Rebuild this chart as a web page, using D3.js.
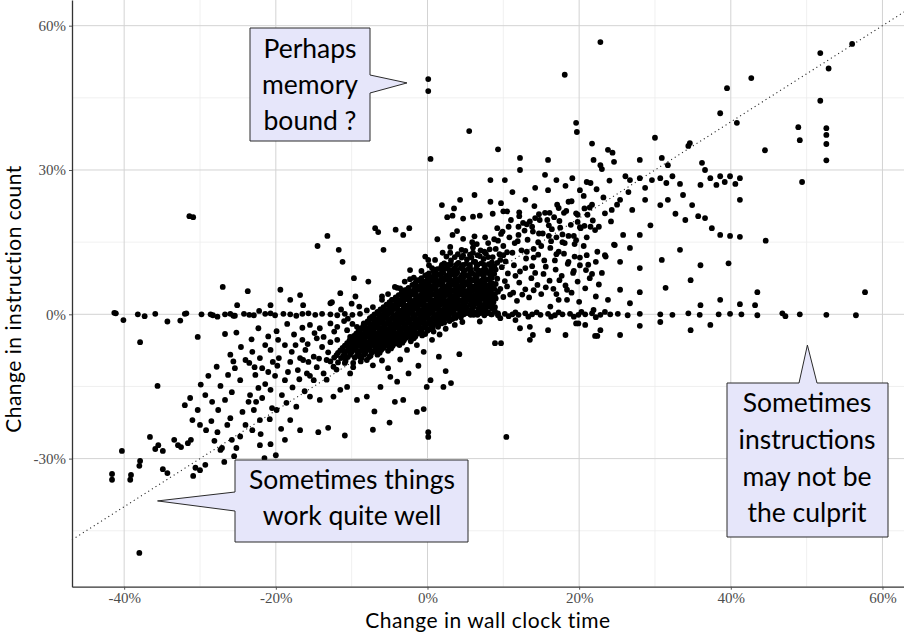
<!DOCTYPE html>
<html>
<head>
<meta charset="utf-8">
<script src="https://cdn.jsdelivr.net/npm/d3@7"></script>
<style>
  body { margin: 0; background: #fff; }
  svg { display: block; }
</style>
</head>
<body>
<svg id="chart" width="904" height="633"></svg>
<script>
// Axis ticks (percent)
const xTicks = [-40, -20, 0, 20, 40, 60];
const xMinorTicks = [-30, -10, 10, 30, 50];
const yTicks = [-30, 0, 30, 60];
const yMinorTicks = [-45, -15, 15, 45];

// Benchmarks: [change in wall clock time %, change in instruction count %]
// Runs whose instruction count did not move
const flatRuns = [
  [-41.3,0.3],[-41.1,0.2],[-40.1,-1.2],[-38.2,0.0],[-37.3,-0.4],[-35.9,0.1],[-34.3,-1.5],[-32.6,-1.3],
  [-32.0,0.1],[-31.8,0.2],[-29.8,0.0],[-28.6,0.0],[-28.3,-0.2],[-27.7,-0.5],[-26.7,0.0],[-26.0,0.1],
  [-25.6,-0.3],[-25.4,-0.3],[-24.2,0.1],[-23.5,-0.1],[-22.9,-0.2],[-22.2,0.7],[-21.4,0.1],[-20.7,0.2],
  [-20.1,-0.2],[-19.0,0.1],[-18.1,0.0],[-17.3,-0.3],[-16.5,0.1],[-15.7,0.2],[-14.8,-0.1],[-13.9,0.1],
  [-12.8,0.0],[-11.9,-0.2],[-10.9,0.1],[-9.9,-0.1],[-8.9,0.1],
  [5.6,0.1],[6.6,-0.1],[7.5,0.2],[8.5,0.0],[9.3,-0.2],[10.2,0.1],[11.2,0.0],[12.0,-0.1],[12.9,0.2],
  [13.8,0.0],[14.9,-0.1],[15.9,0.1],[16.8,-0.2],[17.8,0.0],[18.8,0.1],[19.9,-0.1],[20.8,0.0],[21.7,0.2],
  [22.8,-0.1],[24.1,0.0],[25.1,0.1],[26.4,-0.2],[28.0,0.1],[30.7,0.0],[32.3,-0.1],[34.4,0.2],[35.9,-0.1],
  [38.4,0.0],[39.9,0.1],[41.4,0.0],[43.5,-0.2],[46.8,0.2],[47.2,-0.4],[49.1,0.0],[52.6,-0.1],[56.5,-0.2],
  [10.7,-0.4],[11.6,0.4],[13.3,-0.5],[14.4,0.4],[16.3,-0.5],[17.3,0.4],[19.3,-0.5],[20.3,0.5],[22.2,-0.6],[23.4,0.5]
];

// Bulk of the runs around no change
const coreRuns = [
  [3.1,11.2],[4.0,10.6],[5.2,11.4],[6.3,10.9],[7.4,11.5],[8.5,10.8],[9.6,11.3],
  [1.8,9.8],[2.6,10.2],[3.6,9.6],[4.6,10.1],[5.6,9.7],[6.6,10.3],[7.6,9.5],[8.8,10.0],
  [0.8,9.0],[1.9,8.7],[2.9,9.1],[3.9,8.8],[4.9,9.2],[5.9,8.6],[6.9,9.0],[7.9,8.8],[9.0,9.3],
  [-0.3,8.1],[0.7,7.8],[1.6,8.2],[2.5,7.9],[3.4,8.3],[4.4,7.7],[5.3,8.0],[6.3,7.8],[7.3,8.2],[8.3,7.9],
  [-1.2,7.0],[-0.3,6.8],[0.6,7.1],[1.5,6.9],[2.4,7.2],[3.3,6.8],[4.2,7.0],[5.1,6.7],[6.0,7.1],[7.0,6.9],[8.0,7.2],
  [-2.0,6.1],[-1.1,5.8],[-0.2,6.0],[0.7,5.9],[1.6,6.2],[2.5,5.8],[3.4,6.1],[4.3,5.9],[5.2,6.2],[6.1,5.8],[7.1,6.0],[8.0,6.0],[9.0,6.3],
  [-3.0,5.0],[-2.1,4.8],[-1.2,5.1],[-0.3,4.9],[0.6,5.2],[1.5,4.8],[2.4,5.0],[3.3,4.9],[4.2,5.1],[5.1,4.8],[6.0,5.0],[7.0,5.2],[7.9,5.0],[8.8,5.3],
  [-3.8,4.0],[-2.9,3.9],[-2.0,4.1],[-1.1,3.8],[-0.2,4.0],[0.7,4.1],[1.6,3.9],[2.5,4.0],[3.4,3.8],[4.3,4.1],[5.2,3.9],[6.2,4.0],[7.1,4.1],[8.0,3.9],[8.9,4.2],
  [-4.6,3.0],[-3.7,2.9],[-2.8,3.1],[-1.9,2.8],[-1.0,3.0],[-0.1,3.1],[0.8,2.9],[1.7,3.0],[2.6,2.8],[3.5,3.1],[4.4,2.9],[5.4,3.0],[6.3,3.0],[7.2,3.2],[8.1,2.9],[9.0,3.3],
  [-5.4,2.0],[-4.5,1.9],[-3.6,2.1],[-2.7,1.8],[-1.8,2.0],[-0.9,2.1],[0.0,1.9],[0.9,2.0],[1.8,2.1],[2.7,1.9],[3.6,2.0],[4.6,1.8],[5.6,2.0],[6.5,2.2],[7.4,1.9],[8.3,2.3],
  [-6.2,1.0],[-5.3,0.9],[-4.4,1.1],[-3.5,0.8],[-2.6,1.0],[-1.7,1.1],[-0.8,0.9],[0.1,1.0],[1.0,1.1],[1.9,0.9],[2.8,1.0],[3.7,1.1],[4.7,0.9],[5.8,0.9],[6.7,1.1],[7.6,0.9],[8.5,1.2],
  [-7.0,0.0],[-6.1,-0.1],[-5.2,0.1],[-4.3,-0.2],[-3.4,0.0],[-2.5,0.1],[-1.6,-0.1],[-0.7,0.0],[0.2,0.1],[1.1,-0.1],[2.0,0.0],[2.9,0.1],[3.8,-0.1],[4.8,0.0],[5.7,-0.1],[6.6,0.1],[7.5,-0.2],[8.4,0.0],[9.3,0.2],
  [-7.6,-1.0],[-6.7,-1.1],[-5.8,-0.9],[-4.9,-1.0],[-4.0,-1.1],[-3.1,-0.9],[-2.2,-1.0],[-1.3,-1.1],[-0.4,-0.9],[0.5,-1.0],[1.4,-1.1],[2.3,-0.9],[3.3,-1.0],
  [-8.2,-2.0],[-7.3,-2.1],[-6.4,-1.9],[-5.5,-2.0],[-4.6,-2.1],[-3.7,-1.9],[-2.8,-2.0],[-1.9,-2.1],[-1.0,-1.9],[-0.1,-2.0],[0.8,-2.1],[1.8,-1.9],
  [-8.8,-3.0],[-7.9,-3.1],[-7.0,-2.9],[-6.1,-3.0],[-5.2,-3.1],[-4.3,-2.9],[-3.4,-3.0],[-2.5,-3.1],[-1.6,-2.9],[-0.7,-3.0],[0.3,-3.1],
  [-9.4,-4.0],[-8.5,-4.1],[-7.6,-3.9],[-6.7,-4.0],[-5.8,-4.1],[-4.9,-3.9],[-4.0,-4.0],[-3.1,-4.1],[-2.2,-3.9],[-1.3,-4.0],[-0.3,-4.1],
  [-10.0,-5.0],[-9.1,-5.1],[-8.2,-4.9],[-7.3,-5.0],[-6.4,-5.1],[-5.5,-4.9],[-4.6,-5.0],[-3.7,-5.1],[-2.8,-4.9],[-1.8,-5.0],
  [-10.6,-6.0],[-9.7,-6.1],[-8.8,-5.9],[-7.9,-6.0],[-7.0,-6.1],[-6.1,-5.9],[-5.2,-6.0],[-4.3,-6.1],[-3.3,-5.9],
  [-11.2,-7.0],[-10.3,-7.1],[-9.4,-6.9],[-8.5,-7.0],[-7.6,-7.1],[-6.7,-6.9],[-5.8,-7.0],[-4.8,-7.1],
  [-11.8,-8.0],[-10.9,-8.1],[-10.0,-7.9],[-9.1,-8.0],[-8.2,-8.1],[-7.3,-7.9],[-6.3,-8.0],
  [-12.3,-9.0],[-11.4,-9.1],[-10.5,-8.9],[-9.6,-9.0],[-8.7,-9.1],[-7.7,-8.9]
];

// More runs packed into the same central mass
const coreRunsDense = [
  [2.5,12.0],[3.6,11.9],[4.7,12.2],[5.8,11.8],[6.9,12.1],[8.0,11.9],
  [2.2,10.6],[3.1,10.4],[4.1,10.7],[5.1,10.5],[6.1,10.9],[7.1,10.6],[8.1,10.4],[9.2,10.7],
  [1.3,9.4],[2.4,9.5],[3.4,9.3],[4.4,9.6],[5.4,9.4],[6.4,9.5],[7.4,9.3],[8.4,9.6],
  [0.2,8.5],[1.2,8.4],[2.1,8.6],[3.0,8.4],[3.9,8.6],[4.9,8.3],[5.8,8.5],[6.8,8.4],[7.8,8.6],[8.8,8.4],
  [-0.8,7.5],[0.2,7.4],[1.1,7.6],[2.0,7.4],[2.9,7.6],[3.8,7.3],[4.7,7.5],[5.6,7.4],[6.5,7.6],[7.5,7.4],[8.5,7.6],
  [-1.6,6.5],[-0.7,6.4],[0.2,6.6],[1.1,6.4],[2.0,6.6],[2.9,6.4],[3.8,6.6],[4.7,6.4],[5.6,6.6],[6.5,6.4],[7.5,6.6],[8.5,6.5],
  [-2.5,5.5],[-1.6,5.4],[-0.7,5.6],[0.2,5.4],[1.1,5.6],[2.0,5.4],[2.9,5.6],[3.8,5.4],[4.7,5.6],[5.6,5.4],[6.5,5.6],[7.5,5.5],[8.4,5.7],
  [-3.4,4.5],[-2.5,4.4],[-1.6,4.6],[-0.7,4.4],[0.2,4.6],[1.1,4.4],[2.0,4.6],[2.9,4.4],[3.8,4.6],[4.7,4.4],[5.6,4.6],[6.6,4.5],[7.5,4.6],[8.4,4.5],[9.3,4.7],
  [-4.2,3.5],[-3.3,3.4],[-2.4,3.6],[-1.5,3.4],[-0.6,3.6],[0.3,3.4],[1.2,3.6],[2.1,3.4],[3.0,3.6],[3.9,3.4],[4.9,3.6],[5.8,3.5],[6.7,3.6],[7.6,3.4],[8.5,3.6],
  [-5.0,2.5],[-4.1,2.4],[-3.2,2.6],[-2.3,2.4],[-1.4,2.6],[-0.5,2.4],[0.4,2.6],[1.3,2.4],[2.2,2.6],[3.1,2.4],[4.1,2.6],[5.0,2.5],[5.9,2.6],[6.9,2.4],[7.8,2.6],[8.7,2.5],
  [-5.8,1.5],[-4.9,1.4],[-4.0,1.6],[-3.1,1.4],[-2.2,1.6],[-1.3,1.4],[-0.4,1.6],[0.5,1.4],[1.4,1.6],[2.3,1.4],[3.2,1.6],[4.2,1.5],[5.2,1.4],[6.1,1.6],[7.0,1.4],[8.0,1.6],[8.9,1.5],
  [-6.6,0.5],[-5.7,0.4],[-4.8,0.6],[-3.9,0.4],[-3.0,0.6],[-2.1,0.4],[-1.2,0.6],[-0.3,0.4],[0.6,0.6],[1.5,0.4],[2.4,0.6],[3.3,0.4],[4.3,0.6],[5.2,0.5],[6.2,0.4],[7.1,0.6],[8.0,0.4],[8.9,0.6],
  [-7.3,-0.5],[-6.4,-0.6],[-5.5,-0.4],[-4.6,-0.6],[-3.7,-0.4],[-2.8,-0.6],[-1.9,-0.4],[-1.0,-0.6],[-0.1,-0.4],[0.8,-0.6],[1.7,-0.4],[2.6,-0.6],[3.5,-0.4],[4.4,-0.6],
  [-7.9,-1.5],[-7.0,-1.6],[-6.1,-1.4],[-5.2,-1.6],[-4.3,-1.4],[-3.4,-1.6],[-2.5,-1.4],[-1.6,-1.6],[-0.7,-1.4],[0.2,-1.6],[1.1,-1.4],[2.0,-1.6],[2.9,-1.4],
  [-8.5,-2.5],[-7.6,-2.6],[-6.7,-2.4],[-5.8,-2.6],[-4.9,-2.4],[-4.0,-2.6],[-3.1,-2.4],[-2.2,-2.6],[-1.3,-2.4],[-0.4,-2.6],[0.5,-2.4],[1.4,-2.6],
  [-9.1,-3.5],[-8.2,-3.6],[-7.3,-3.4],[-6.4,-3.6],[-5.5,-3.4],[-4.6,-3.6],[-3.7,-3.4],[-2.8,-3.6],[-1.9,-3.4],[-1.0,-3.6],[0.0,-3.4],[0.8,-3.6],
  [-9.7,-4.5],[-8.8,-4.6],[-7.9,-4.4],[-7.0,-4.6],[-6.1,-4.4],[-5.2,-4.6],[-4.3,-4.4],[-3.4,-4.6],[-2.5,-4.4],[-1.6,-4.6],[-0.7,-4.4],
  [-10.3,-5.5],[-9.4,-5.6],[-8.5,-5.4],[-7.6,-5.6],[-6.7,-5.4],[-5.8,-5.6],[-4.9,-5.4],[-4.0,-5.6],[-3.1,-5.4],[-2.2,-5.6],
  [-10.9,-6.5],[-10.0,-6.6],[-9.1,-6.4],[-8.2,-6.6],[-7.3,-6.4],[-6.4,-6.6],[-5.5,-6.4],[-4.6,-6.6],[-3.7,-6.4],
  [-11.5,-7.5],[-10.6,-7.6],[-9.7,-7.4],[-8.8,-7.6],[-7.9,-7.4],[-7.0,-7.6],[-6.1,-7.4],[-5.2,-7.6],
  [-12.0,-8.5],[-11.1,-8.6],[-10.2,-8.4],[-9.3,-8.6],[-8.4,-8.4],[-7.5,-8.6],[-6.6,-8.4],
  [-12.8,-9.8],[-11.8,-10.0],[-10.8,-9.7],[-9.8,-10.1],[-8.8,-9.8],
  [3.0,12.8],[4.5,13.4],[6.0,13.9],[7.5,13.0],[9.0,13.6],[10.5,12.9]
];

// Runs in the very centre of the mass
const coreRunsInner = [
  [1.9,10.25],[2.8,10.25],[3.8,10.25],[4.7,10.25],[5.6,10.25],[6.5,10.25],[7.5,10.25],[8.4,10.25],
  [1.0,9.25],[1.9,9.25],[2.9,9.25],[3.8,9.25],[4.7,9.25],[5.7,9.25],[6.6,9.25],[7.5,9.25],[8.4,9.25],
  [0.0,8.25],[0.9,8.25],[1.8,8.25],[2.8,8.25],[3.7,8.25],[4.6,8.25],[5.5,8.25],[6.5,8.25],[7.4,8.25],[8.3,8.25],
  [-0.9,7.25],[0.0,7.25],[0.9,7.25],[1.8,7.25],[2.7,7.25],[3.6,7.25],[4.5,7.25],[5.5,7.25],[6.4,7.25],[7.3,7.25],[8.2,7.25],
  [-1.7,6.25],[-0.8,6.25],[0.1,6.25],[1.0,6.25],[1.9,6.25],[2.8,6.25],[3.7,6.25],[4.6,6.25],[5.5,6.25],[6.5,6.25],[7.4,6.25],[8.3,6.25],
  [-2.6,5.25],[-1.7,5.25],[-0.8,5.25],[0.1,5.25],[1.0,5.25],[1.9,5.25],[2.8,5.25],[3.7,5.25],[4.6,5.25],[5.5,5.25],[6.4,5.25],[7.3,5.25],[8.2,5.25],
  [-3.4,4.25],[-2.5,4.25],[-1.6,4.25],[-0.7,4.25],[0.2,4.25],[1.1,4.25],[2.0,4.25],[2.9,4.25],[3.8,4.25],[4.7,4.25],[5.6,4.25],[6.5,4.25],[7.4,4.25],[8.3,4.25],
  [-4.2,3.25],[-3.3,3.25],[-2.4,3.25],[-1.5,3.25],[-0.6,3.25],[0.3,3.25],[1.2,3.25],[2.1,3.25],[3.0,3.25],[3.9,3.25],[4.8,3.25],[5.7,3.25],[6.6,3.25],[7.5,3.25],[8.4,3.25],
  [-5.0,2.25],[-4.1,2.25],[-3.2,2.25],[-2.3,2.25],[-1.4,2.25],[-0.5,2.25],[0.4,2.25],[1.3,2.25],[2.2,2.25],[3.1,2.25],[4.0,2.25],[4.9,2.25],[5.8,2.25],[6.7,2.25],[7.6,2.25],[8.5,2.25],
  [-5.8,1.25],[-4.9,1.25],[-4.0,1.25],[-3.1,1.25],[-2.2,1.25],[-1.3,1.25],[-0.4,1.25],[0.5,1.25],[1.4,1.25],[2.3,1.25],[3.2,1.25],[4.1,1.25],[5.0,1.25],[5.9,1.25],[6.8,1.25],[7.7,1.25],
  [-6.5,0.25],[-5.6,0.25],[-4.7,0.25],[-3.8,0.25],[-2.9,0.25],[-2.0,0.25],[-1.1,0.25],[-0.2,0.25],[0.7,0.25],[1.6,0.25],[2.5,0.25],[3.4,0.25],[4.3,0.25],[5.2,0.25],[6.1,0.25],[7.0,0.25],[7.9,0.25],
  [-7.1,-0.75],[-6.2,-0.75],[-5.3,-0.75],[-4.4,-0.75],[-3.5,-0.75],[-2.6,-0.75],[-1.7,-0.75],[-0.8,-0.75],[0.1,-0.75],[1.0,-0.75],[1.9,-0.75],[2.8,-0.75],[3.7,-0.75],
  [-7.7,-1.75],[-6.8,-1.75],[-5.9,-1.75],[-5.0,-1.75],[-4.1,-1.75],[-3.2,-1.75],[-2.3,-1.75],[-1.4,-1.75],[-0.5,-1.75],[0.4,-1.75],[1.3,-1.75],[2.2,-1.75],
  [-8.3,-2.75],[-7.4,-2.75],[-6.5,-2.75],[-5.6,-2.75],[-4.7,-2.75],[-3.8,-2.75],[-2.9,-2.75],[-2.0,-2.75],[-1.1,-2.75],[-0.2,-2.75],[0.7,-2.75],
  [-8.9,-3.75],[-8.0,-3.75],[-7.1,-3.75],[-6.2,-3.75],[-5.3,-3.75],[-4.4,-3.75],[-3.5,-3.75],[-2.6,-3.75],[-1.7,-3.75],[-0.8,-3.75],
  [-9.4,-4.75],[-8.5,-4.75],[-7.6,-4.75],[-6.7,-4.75],[-5.8,-4.75],[-4.9,-4.75],[-4.0,-4.75],[-3.1,-4.75],[-2.2,-4.75],
  [-10.0,-5.75],[-9.1,-5.75],[-8.2,-5.75],[-7.3,-5.75],[-6.4,-5.75],[-5.5,-5.75],[-4.6,-5.75],[-3.7,-5.75],
  [-10.5,-6.75],[-9.6,-6.75],[-8.7,-6.75],[-7.8,-6.75],[-6.9,-6.75],[-6.0,-6.75],[-5.1,-6.75],
  [-11.0,-7.75],[-10.1,-7.75],[-9.2,-7.75],[-8.3,-7.75],[-7.4,-7.75],[-6.5,-7.75]
];

// Runs that got slower
const slowerRuns = [
  [9.5,12.5],[10.3,11.0],[11.2,12.8],[10.0,14.2],[11.5,14.8],[12.4,13.3],[13.2,15.5],[12.0,16.5],[13.9,17.2],
  [14.6,15.0],[15.2,16.8],[16.0,18.5],[14.8,19.6],[16.7,20.2],[17.5,18.0],[18.3,21.5],[17.1,22.8],[19.0,23.5],
  [19.8,20.7],[20.6,24.6],[21.4,22.2],[22.3,26.0],[21.0,27.5],[23.2,24.3],[24.0,27.8],[9.8,9.8],[10.6,8.5],
  [11.4,10.2],[12.2,8.9],[13.0,11.6],[13.8,10.0],[14.6,12.4],[15.4,11.2],[16.2,13.8],[17.0,12.5],[17.8,15.0],
  [18.6,16.3],[19.4,14.6],[20.2,17.9],[21.0,16.0],[21.8,19.5],[22.6,18.2],[23.4,21.0],[24.2,19.3],[25.0,22.8],
  [10.5,5.8],[11.3,4.5],[12.1,6.6],[12.9,5.2],[13.7,7.5],[14.5,6.1],[15.3,8.4],[16.1,7.0],[16.9,9.3],[17.7,8.0],
  [18.5,10.5],[19.3,9.0],[20.1,11.8],[21.2,10.3],[22.4,13.0],[23.5,12.0],[24.6,14.5],[25.8,16.5],[9.2,7.4],
  [10.0,3.6],[11.8,2.8],[13.4,3.5],[15.0,4.2],[16.6,5.3],[18.2,6.0],[19.8,6.8],[21.4,7.5],[23.0,8.6],
  [8.2,13.5],[8.8,15.6],[9.9,17.2],[7.0,13.3],[6.0,12.8],[5.0,13.2],[4.0,12.5],[6.5,14.6],[7.6,16.0],
  [3.0,14.0],[2.0,12.8],[1.0,11.3],[0.2,10.2],
  [1.3,15.6],[3.9,17.3],[3.3,16.5],[4.7,15.7],[6.2,16.2],[5.9,15.0],[3.5,22.0],[2.6,20.2],[3.3,20.5],
  [4.7,19.9],[6.0,20.3],[6.9,20.5],[8.3,23.4],[9.7,23.1],[8.6,20.9],[10.0,21.4],[10.5,21.4],[12.1,21.2],
  [12.1,20.4],[14.1,22.5],[14.7,20.8],[15.5,21.1],[16.1,21.1],[17.3,22.1],[18.0,21.1],[18.6,23.4],[19.6,21.0],
  [20.7,22.0],[21.7,22.8],[21.1,20.7],[9.2,17.9],[9.7,16.7],[10.7,18.2],[12.0,18.2],[13.1,18.7],[13.5,19.3],
  [13.8,18.2],[14.7,16.8],[16.0,16.3],[16.4,17.7],[17.0,16.0],[17.8,16.6],[18.1,14.8],[19.3,16.3],[19.6,15.4],
  [20.1,18.1],[20.7,18.4],[21.5,18.2],[22.1,17.5],[17.3,13.0],[18.6,10.9],[17.4,7.1],[18.4,5.1],[19.2,8.6],
  [20.1,10.2],[20.9,9.2],[21.7,8.4],[20.0,2.6],[22.2,3.7],[21.9,0.9],[19.6,-1.9],[19.9,-1.9],[22.1,-4.5],
  [22.4,-4.5],[21.0,12.3],[18.4,3.0],[17.3,3.0],[16.2,1.6],[13.5,-2.6],[13.9,-4.3],[12.2,-2.9],[11.6,-1.2],
  [9.6,-0.8],[8.9,-6.0],[9.7,-6.0],[6.9,-1.5],[6.1,-0.1],[4.2,-8.3],[1.5,-8.8],
  [8.0,14.8],[9.3,15.3],[10.8,16.0],[11.9,15.2],[12.8,17.4],[14.0,13.6],[15.0,14.2],[16.3,15.2],[11.0,19.6],
  [12.6,19.0],[14.2,20.0],[15.8,19.6],[17.4,19.4],[18.9,18.6],[19.8,19.2],[10.2,6.9],[11.6,8.0],[12.9,9.6],
  [14.2,8.6],[15.6,9.9],[16.8,11.2],[18.0,12.6],[19.4,12.0],[20.6,14.2],[13.1,13.0],[14.0,11.8],[9.6,5.3],
  [10.9,4.1],[12.5,4.1],[14.0,5.0],[15.6,5.6],[17.0,4.2],[19.0,4.5],[20.8,5.4],[22.6,6.2],[8.6,11.9],[10.0,12.3],
  [7.7,12.6],[6.6,12.3],[5.6,12.4],[4.5,11.8],[2.4,-3.0],[1.6,-4.2],[0.6,-5.3],[3.6,-2.2],[4.6,-1.6],
  [15.5,29.0],[17.0,27.9],[18.2,26.7],[19.1,28.3],[20.1,25.8],[21.5,27.3],[15.9,25.8],[14.2,26.3],[12.9,23.8],
  [11.2,25.4],[10.2,27.9],[12.2,30.0],[15.9,32.1],[6.2,24.8],[8.3,27.9],[4.3,23.8],[1.9,22.7],
  [21.9,32.1],[22.8,31.0],[23.8,34.2],[24.6,31.7],[21.7,35.5],[24.4,33.6],[23.0,30.2],
  [26.1,28.7],[26.7,27.9],[28.0,28.3],[28.7,26.3],[29.6,27.9],[30.7,28.3],[31.5,27.3],[32.3,28.7],[33.3,27.1],
  [34.4,35.0],[34.6,35.6],[36.0,26.9],[36.6,30.0],[37.3,28.3],[38.1,26.9],[38.6,28.7],[39.2,27.5],[39.9,28.7],
  [40.6,27.1],[41.2,28.3],[36.2,31.5],[30.0,36.7],[30.9,32.5],[31.7,31.0],[28.0,32.1],[26.5,25.4],[25.4,23.8],
  [24.3,21.7],[27.0,21.7],[28.7,23.8],[30.7,22.7],[31.7,23.8],[32.7,20.9],[34.0,19.6],[34.9,22.7],[35.7,20.4],
  [36.6,20.0],[37.5,17.9],[38.6,16.5],[39.9,16.3],[33.7,24.8],[29.4,18.5],[28.0,16.5],[26.7,13.8],[24.7,14.4],
  [23.4,12.3],[22.2,10.9],[25.4,10.9],[28.0,9.6],[30.9,11.3],[33.3,13.4],[36.0,10.2],[34.7,7.1],[31.4,5.5],
  [28.0,4.6],[25.4,5.1],[23.8,3.0],[26.7,2.3],[36.0,1.9],[38.6,3.0],[41.2,2.1],[43.2,1.9],[43.5,4.6],
  [37.3,-2.2],[34.7,-3.3],[30.7,-1.6],[28.0,-2.4],[25.4,-4.3],[22.8,-3.3],[20.8,-2.2],[18.2,-4.3],[15.9,-3.3],[13.5,-5.3],
  [41.2,16.1],[44.6,15.3],[39.7,10.6],[41.2,23.8],[44.5,34.1],[49.4,27.5],[57.7,4.6]
];

// Runs that got faster
const fasterRuns = [
  [-0.8,9.0],[-1.8,7.6],[-3.0,6.8],[-4.0,5.5],[-5.2,4.2],[-6.0,3.0],[-7.2,1.5],[-8.0,0.8],[-9.0,1.6],
  [-10.0,2.2],[-11.4,1.0],[-12.6,2.5],[-4.3,5.7],[-3.6,5.4],[-6.0,3.7],[-4.7,3.0],[-2.3,9.2],[-1.4,7.1],
  [-0.3,12.0],[0.1,11.3],[-9.7,7.5],[-7.8,6.8],[-11.5,4.4],[-9.5,3.7],[-12.8,2.3],[-2.3,7.3],[0.6,9.6],
  [-16.4,1.9],[-15.5,-2.2],[-14.2,-2.9],[-12.8,-1.9],[-11.9,-2.6],[-10.6,-3.3],[-9.3,-2.6],[-8.4,-1.9],[-7.6,-0.8],
  [-13.7,-4.7],[-11.9,-5.3],[-10.2,-4.7],[-8.9,-5.3],[-8.0,-4.0],
  [3.1,-14.3],[2.1,-15.1],[2.4,-11.8],[0.4,-13.7],[-0.1,-15.1],[-0.5,-19.7],[-1.4,-20.3],[-3.2,-17.8],
  [-4.3,-18.2],[-2.5,-12.3],[-1.2,-10.7],[-4.0,-14.0],[-4.9,-13.0],[-6.2,-15.1],[-8.0,-17.1],[-9.3,-17.8],
  [-7.0,-20.2],[-11.5,-15.7],[-12.4,-17.1],[-10.6,-15.1],[-14.2,-17.8],[-15.5,-17.1],[-15.0,-13.7],[-13.7,-12.3],
  [-12.4,-10.9],[-10.2,-12.3],[-8.9,-8.8],[-8.0,-9.5],[-11.1,-8.8],[-13.3,-9.5],[-15.0,-8.8],[-16.4,-9.5],[-15.9,-12.3],
  [-12.8,-5.8],[-13.9,-6.8],[-14.6,-5.0],[-15.8,-6.2],[-13.1,-7.9],[-14.3,-9.2],[-12.0,-11.5],[-13.3,-13.6],
  [-14.6,-11.0],[-16.9,-13.5],[-17.8,-15.2],[-16.2,-16.0],[-18.6,-18.4],[-19.9,-19.9],[-17.3,-19.2],[-20.8,-21.8],
  [-22.0,-24.9],[-19.3,-23.8],[-9.8,-11.0],[-10.9,-10.1],[-7.2,-10.6],[-6.0,-9.6],[-5.2,-11.2],[-3.6,-9.4],
  [-2.7,-7.4],[-1.4,-6.4],[-0.5,-7.8],[-11.0,-1.4],[-12.3,-3.6],[-9.9,-2.0],[-10.5,-0.9],[-14.9,-3.9],
  [-16.5,-2.8],[-17.6,-4.2],[-18.5,-2.0],[-19.9,-3.5],[-21.0,-4.6],[-22.3,-2.9],[-23.2,-5.2],[-24.6,-6.8],
  [-20.4,-9.9],[-26.0,-8.4],[-27.8,-10.9],[-28.9,-12.8],[-29.9,-14.6],
  [-24.4,-20.3],[-24.0,-23.0],[-23.6,-18.2],[-23.4,-16.8],[-23.1,-24.1],[-22.9,-19.9],[-22.6,-18.2],[-22.3,-15.3],
  [-22.1,-22.0],[-21.8,-17.4],[-21.4,-14.5],[-21.0,-12.0],[-20.7,-15.7],[-20.5,-19.5],[-20.1,-12.8],[-19.8,-10.7],
  [-19.6,-9.1],[-19.2,-16.8],[-18.8,-13.7],[-18.4,-12.0],[-18.1,-9.9],[-17.9,-7.8],[-17.4,-6.4],[-17.1,-11.6],
  [-16.8,-9.1],[-16.5,-5.3],[-16.1,-7.4],[-15.7,-9.9],[-15.5,-12.8],[-22.1,-27.2],[-21.5,-29.9],[-20.7,-27.0],
  [-20.0,-29.3],[-18.8,-26.1],[-18.1,-22.0],[-16.8,-24.1],[-14.4,-24.5],[-13.1,-23.6],[-10.9,-25.2],
  [-27.3,-14.9],[-26.3,-12.6],[-25.4,-11.2],[-24.0,-9.5],[-23.1,-7.8],[-22.1,-9.1],[-21.4,-6.4],[-20.7,-7.4],
  [-19.7,-5.3],[-18.8,-6.4],[-26.7,-17.8],[-25.8,-16.2],[-24.7,-13.7],[-22.7,-12.6],[-21.8,-11.2],
  [-32.0,-18.9],[-31.3,-17.4],[-30.3,-19.9],[-29.3,-16.8],[-28.4,-18.2],[-27.6,-19.9],[-31.0,-22.0],[-30.0,-23.0],
  [-29.2,-24.1],[-28.5,-22.2],[-28.1,-26.3],[-27.7,-24.5],[-27.3,-28.2],[-27.1,-27.8],[-26.8,-30.7],[-26.4,-23.0],
  [-26.0,-21.6],[-25.8,-26.1],[-25.5,-29.5],[-25.2,-27.8],[-25.0,-32.4],[-24.7,-25.4],[-29.3,-31.3],[-30.0,-32.4],[-30.6,-31.9],
  [-36.6,-25.5],[-35.5,-27.2],[-35.9,-28.0],[-34.9,-28.4],[-34.9,-32.2],[-34.3,-33.0],[-33.4,-26.1],[-32.9,-27.2],
  [-32.5,-27.6],[-31.6,-26.8],[-31.2,-26.1],[-30.9,-33.6],[-41.6,-33.2],[-41.6,-34.4],[-40.3,-28.4],[-39.2,-34.4],
  [-39.1,-33.4],[-38.0,-31.5],[-37.9,-30.5],[-35.6,-14.9],[-37.9,-5.8],
  [-30.3,-4.7],[-27.0,5.7],[-25.1,1.9],[-26.7,-4.1],[-25.2,-3.8],[-23.7,4.8],[-25.6,-9.8],[-23.5,-10.1],[-22.8,-11.0],
  [-18.1,3.0],[-16.8,4.0],[-20.7,1.9],[-19.4,5.1],
  [-5.0,-22.5],[-7.2,-24.0]
];

// Isolated runs far from the rest
const outlierRuns = [
  [-38.0,-49.6],[0.1,-24.5],[0.1,-25.5],[2.7,-33.2],[10.4,-25.5],
  [-30.9,20.2],[-31.4,20.4],[-13.2,16.3],[-14.5,14.2],[-11.7,13.4],[-11.2,10.9],[-5.8,13.4],[-4.2,17.6],
  [-2.4,17.9],[-3.2,16.5],[-6.9,17.9],[-6.5,17.1],
  [0.1,48.9],[0.1,46.4],[5.5,38.1],[0.4,32.3],[9.3,34.3],[12.2,32.5],[18.1,49.8],[22.8,56.6],
  [19.6,39.8],[19.7,37.9],[39.5,47.0],[42.7,49.1],[38.6,41.8],[40.8,39.8],
  [51.8,54.3],[52.9,51.1],[56.0,56.2],[51.8,44.4],[52.6,38.7],[52.6,37.3],[52.6,35.4],[52.6,32.0],
  [48.9,38.9],[49.1,36.2]
];

const runs = [].concat(flatRuns, coreRuns, coreRunsDense, coreRunsInner, slowerRuns, fasterRuns, outlierRuns);

// Callout texts
const calloutTexts = [
  ["Perhaps", "memory", "bound ?"],
  ["Sometimes things", "work quite well"],
  ["Sometimes", "instructions", "may not be", "the culprit"]
];

// ---- layout ----
const svg = d3.select("#chart");
const plot = { left: 72, right: 904, top: 0, bottom: 586.7 };

const x = d3.scaleLinear().domain([-46.88, 62.84]).range([plot.left, plot.right]);
const y = d3.scaleLinear().domain([-56.63, 65.34]).range([plot.bottom, plot.top]);

const pct = d => d + "%";

// grid
const grid = svg.append("g");
grid.selectAll("line.xmin").data(xMinorTicks).join("line")
  .attr("x1", d => x(d)).attr("x2", d => x(d))
  .attr("y1", plot.top).attr("y2", plot.bottom)
  .attr("stroke", "#ececec").attr("stroke-width", 0.8);
grid.selectAll("line.ymin").data(yMinorTicks).join("line")
  .attr("y1", d => y(d)).attr("y2", d => y(d))
  .attr("x1", plot.left).attr("x2", plot.right)
  .attr("stroke", "#ececec").attr("stroke-width", 0.8);
grid.selectAll("line.xmaj").data(xTicks).join("line")
  .attr("x1", d => x(d)).attr("x2", d => x(d))
  .attr("y1", plot.top).attr("y2", plot.bottom)
  .attr("stroke", "#d3d3d3").attr("stroke-width", 1);
grid.selectAll("line.ymaj").data(yTicks).join("line")
  .attr("y1", d => y(d)).attr("y2", d => y(d))
  .attr("x1", plot.left).attr("x2", plot.right)
  .attr("stroke", "#d3d3d3").attr("stroke-width", 1);

// identity reference line
const lo = Math.max(x.domain()[0], y.domain()[0]);
const hi = Math.min(x.domain()[1], y.domain()[1]);
svg.append("line")
  .attr("x1", x(lo)).attr("y1", y(lo))
  .attr("x2", x(hi)).attr("y2", y(hi))
  .attr("stroke", "#222").attr("stroke-width", 1.1)
  .attr("stroke-dasharray", "1.1,3.2");

// points
svg.append("g").selectAll("circle").data(runs).join("circle")
  .attr("cx", d => x(d[0])).attr("cy", d => y(d[1]))
  .attr("r", 2.9).attr("fill", "#000");

// axes
const tickFont = "'Liberation Serif', 'DejaVu Serif', serif";
const xAxis = svg.append("g").attr("transform", `translate(0,${plot.bottom})`)
  .call(d3.axisBottom(x).tickValues(xTicks).tickFormat(pct).tickSize(3).tickSizeOuter(0).tickPadding(2.5));
const yAxis = svg.append("g").attr("transform", `translate(${plot.left},0)`)
  .call(d3.axisLeft(y).tickValues(yTicks).tickFormat(pct).tickSize(3).tickSizeOuter(0).tickPadding(3));
[xAxis, yAxis].forEach(g => {
  g.select(".domain").attr("stroke", "#333").attr("stroke-width", 1.3);
  g.selectAll(".tick line").attr("stroke", "#555").attr("stroke-width", 1);
  g.selectAll(".tick text").attr("fill", "#4d4d4d")
    .style("font-family", tickFont).style("font-size", "15px");
});

// axis titles
const titleFont = "Lato, 'Open Sans', sans-serif";
svg.append("text")
  .attr("x", (plot.left + plot.right) / 2).attr("y", 627.5)
  .attr("text-anchor", "middle").attr("fill", "#000")
  .style("font-family", titleFont).style("font-size", "21px").style("letter-spacing", "0.5px")
  .text("Change in wall clock time");
svg.append("text")
  .attr("transform", `translate(21,299) rotate(-90)`)
  .attr("text-anchor", "middle").attr("fill", "#000")
  .style("font-family", titleFont).style("font-size", "21px").style("letter-spacing", "0.5px")
  .text("Change in instruction count");

// callouts
const callouts = [
  { lines: calloutTexts[0], box: [250, 28, 370, 141], side: "right", base: [75, 93], tip: [-2.7, 48.1],
    cx: 310, baselines: [58, 94, 130] },
  { lines: calloutTexts[1], box: [235, 460, 468, 542], side: "left", base: [492, 511], tip: [-35.6, -38.8],
    cx: 352, baselines: [489, 525] },
  { lines: calloutTexts[2], box: [727, 383, 888, 537], side: "top", base: [799, 817], tip: [50.1, -6.4],
    cx: 807, baselines: [412, 449, 486, 522] }
];

callouts.forEach(c => {
  const [x0, y0, x1, y1] = c.box;
  const tx = x(c.tip[0]), ty = y(c.tip[1]);
  let p;
  if (c.side === "right") {
    p = `M${x0},${y0}H${x1}V${c.base[0]}L${tx},${ty}L${x1},${c.base[1]}V${y1}H${x0}Z`;
  } else if (c.side === "left") {
    p = `M${x0},${y0}H${x1}V${y1}H${x0}V${c.base[1]}L${tx},${ty}L${x0},${c.base[0]}Z`;
  } else {
    p = `M${x0},${y0}H${c.base[0]}L${tx},${ty}L${c.base[1]},${y0}H${x1}V${y1}H${x0}Z`;
  }
  svg.append("path").attr("d", p)
    .attr("fill", "#e6e6fa").attr("stroke", "#2a2a2a").attr("stroke-width", 1);
  c.lines.forEach((t, i) => {
    svg.append("text")
      .attr("x", c.cx).attr("y", c.baselines[i])
      .attr("text-anchor", "middle").attr("fill", "#000")
      .style("font-family", titleFont).style("font-size", "26.5px")
      .text(t);
  });
});
</script>
</body>
</html>
